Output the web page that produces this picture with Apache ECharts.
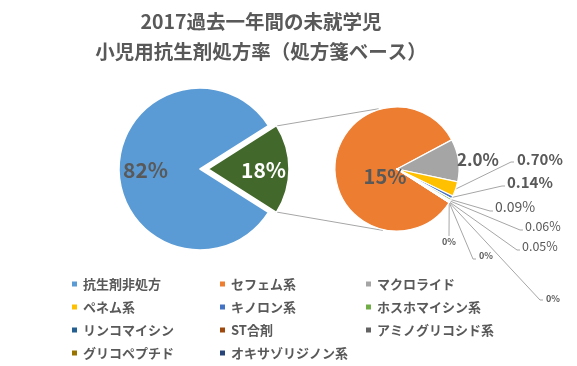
<!DOCTYPE html>
<html><head><meta charset="utf-8">
<script src="https://cdn.jsdelivr.net/npm/echarts@6/dist/echarts.min.js"></script>
<style>html,body{margin:0;padding:0;background:#fff}#c{width:577px;height:366px}</style>
</head><body><div id="c"></div>
<script>
// ---- data ----
const titleLines = ['2017過去一年間の未就学児', '小児用抗生剤処方率（処方箋ベース）'];
const mainNames = ['抗生剤非処方', 'その他'];
const mainValues = [82, 18];
const mainDecimals = [0, 0];
const subNames = ['セフェム系', 'マクロライド', 'ペネム系', 'キノロン系', 'ホスホマイシン系', 'リンコマイシン', 'ST合剤', 'アミノグリコシド系', 'グリコペプチド', 'オキサゾリジノン系'];
const subValues = [15, 2.0, 0.70, 0.14, 0.09, 0.06, 0.05, 0, 0, 0];
const subDecimals = [0, 1, 2, 2, 2, 2, 2, 0, 0, 0];

// ---- style / layout ----
const mainColors = ['#5B9BD5', '#43682B'];
const subColors = ['#ED7D31', '#A5A5A5', '#FFC000', '#4472C4', '#70AD47', '#255E91', '#9E480E', '#636363', '#997300', '#264478'];
const TXT = '#595959';
const FONT = '"Noto Sans CJK JP", "Noto Sans", sans-serif';
const LC = [200, 169], LR = 81, EXPLODE = 8, LSTART = 327.6;
const RC = [397, 169], RR = 62, RSTART = 327.33;
// label placement for outside labels of the secondary pie: [x, y, align, lineEndX, lineEndY]
const subLabelPlace = [
  null,
  [478, 160, 'center', null, null],
  [517, 159, 'left', 514, 162],
  [507, 182, 'left', 505, 186],
  [495, 207, 'left', 493, 211],
  [525, 226, 'left', 523, 230],
  [522, 246, 'left', 520, 250],
  [449, 242, 'center', 449, 236],
  [479, 256, 'left', 476, 259],
  [546, 299, 'left', 543, 300]
];
const subLabelFont = [
  [20, 'bold'], [17, 'bold'], [15, 'bold'], [15, 'bold'], [14, 'normal'], [12.5, 'normal'], [12.5, 'normal'], [9, 'bold'], [9, 'bold'], [9, 'bold']
];

const rad = d => d * Math.PI / 180;
const subTotal = subValues.reduce((a, b) => a + b, 0);
function subMidAngle(i) {
  let cum = 0;
  for (let k = 0; k < i; k++) cum += subValues[k];
  return RSTART - (cum + subValues[i] / 2) / subTotal * 360;
}
function ptOn(c, r, a) { return [c[0] + r * Math.cos(rad(a)), c[1] - r * Math.sin(rad(a))]; }

// connecting lines from exploded slice to the secondary pie
const mainTotal = mainValues.reduce((a, b) => a + b, 0);
const otherMid = LSTART - (mainValues[0] + mainValues[1] / 2) / mainTotal * 360;
const otherHalf = mainValues[1] / mainTotal * 180;
const exC = ptOn(LC, EXPLODE, otherMid);
const topA = ptOn(exC, LR - 1, otherMid + otherHalf);
const botA = ptOn(exC, LR - 1, otherMid - otherHalf);
const topB = ptOn(RC, RR + 1, 107);
const botB = ptOn(RC, RR + 1, -103);

const chart = echarts.init(document.getElementById('c'), null, {renderer: 'canvas'});
const legendNames = [mainNames[0]].concat(subNames);
const colX = [70, 218, 364];
const titleStyle = {fontFamily: FONT, fontSize: 19.5, fontWeight: 'bold', fill: TXT, align: 'center', verticalAlign: 'middle'};

chart.setOption({
  animation: false,
  legend: [0, 1, 2].map(c => ({
    data: legendNames.filter((_, i) => i % 3 === c),
    orient: 'vertical', left: colX[c], top: 277, itemWidth: 7, itemHeight: 7, icon: 'rect',
    itemGap: 9, selectedMode: false, padding: 0,
    textStyle: {fontFamily: FONT, fontSize: 13, fontWeight: 'bold', color: TXT, lineHeight: 14}
  })),
  graphic: [
    {type: 'text', x: 261, y: 22, style: Object.assign({text: titleLines[0]}, titleStyle)},
    {type: 'text', x: 261, y: 52, style: Object.assign({text: titleLines[1]}, titleStyle)},
    {type: 'line', shape: {x1: topA[0], y1: topA[1], x2: topB[0], y2: topB[1]}, style: {stroke: '#A6A6A6', lineWidth: 1}, z: 0},
    {type: 'line', shape: {x1: botA[0], y1: botA[1], x2: botB[0], y2: botB[1]}, style: {stroke: '#A6A6A6', lineWidth: 1}, z: 0}
  ],
  series: [
    {
      type: 'pie', center: LC, radius: [0, LR], startAngle: LSTART, clockwise: true,
      selectedMode: 'single', selectedOffset: EXPLODE, silent: true,
      itemStyle: {borderColor: '#fff', borderWidth: 1.5},
      label: {
        show: true, position: 'inside', fontFamily: FONT, fontSize: 21, fontWeight: 'bold',
        formatter: p => p.value.toFixed(mainDecimals[p.dataIndex]) + '%'
      },
      labelLine: {show: false},
      labelLayout: p => p.dataIndex === 0 ? {dx: -11, dy: 1} : {dx: 12, dy: 1},
      data: mainNames.map((n, i) => ({
        name: n, value: mainValues[i], selected: i === 1,
        itemStyle: {color: mainColors[i]},
        label: {color: i === 0 ? TXT : '#fff'}
      }))
    },
    {
      type: 'pie', center: RC, radius: [0, RR], startAngle: RSTART, clockwise: true, silent: true,
      itemStyle: {borderColor: '#fff', borderWidth: 1.2},
      minShowLabelAngle: 0,
      label: {
        show: true, position: 'outside', fontFamily: FONT, color: TXT,
        formatter: p => p.value.toFixed(subDecimals[p.dataIndex]) + '%'
      },
      labelLine: {show: true, lineStyle: {color: '#A6A6A6', width: 1}},
      labelLayout: p => {
        const i = p.dataIndex;
        if (i === 0) return {dx: 22, dy: 9};
        const pl = subLabelPlace[i];
        const res = {x: pl[0], y: pl[1], align: pl[2], verticalAlign: 'middle', hideOverlap: false, moveOverlap: false};
        if (pl[3] != null) {
          const s = ptOn(RC, RR, subMidAngle(i));
          res.labelLinePoints = pl[2] === 'center'
            ? [s, [pl[3], pl[4]], [pl[3], pl[4]]]
            : [s, [pl[3] - 3, pl[4]], [pl[3], pl[4]]];
        }
        return res;
      },
      data: subNames.map((n, i) => ({
        name: n, value: subValues[i],
        itemStyle: {color: subColors[i]},
        label: Object.assign({fontSize: subLabelFont[i][0], fontWeight: subLabelFont[i][1]}, i === 0 ? {position: 'inside'} : {}),
        labelLine: {show: i >= 2}
      }))
    }
  ]
});
</script>
</body></html>
